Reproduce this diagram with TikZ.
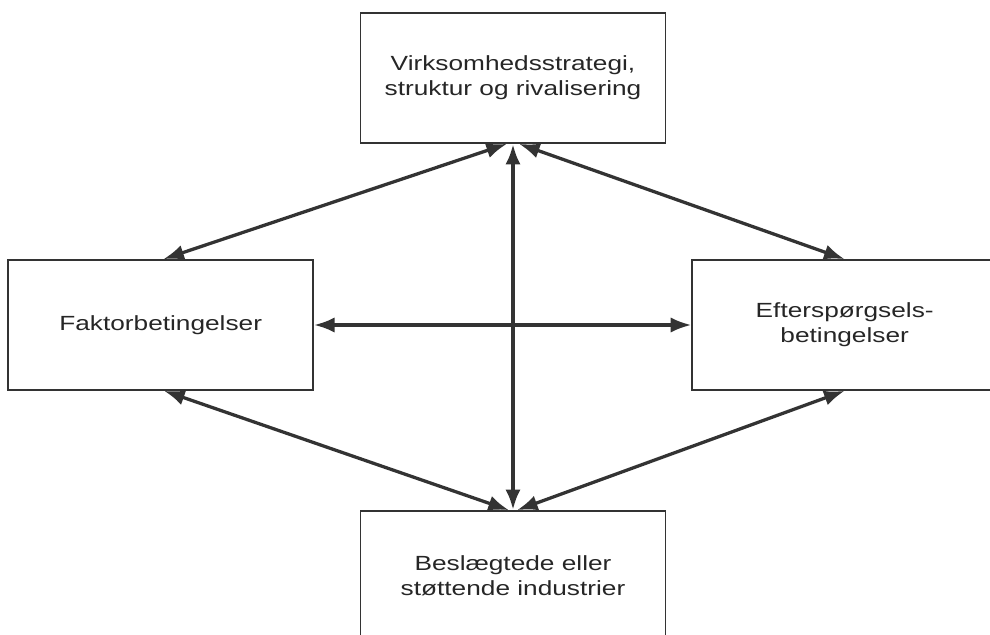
\documentclass[tikz,border=0pt]{standalone}
\usepackage{fontspec}
\setmainfont{Liberation Sans}[FakeStretch=1.28]
\usetikzlibrary{arrows.meta}
\begin{document}
\begin{tikzpicture}[
        boks/.style={draw=black!80, line width=1.4pt, minimum width=9.15cm, minimum height=3.9cm,
            inner sep=0pt, align=center, text=black!85, font=\fontsize{17.5pt}{21.3pt}\selectfont},
        pil/.style={{Latex[length=0.62cm,width=0.46cm]}-{Latex[length=0.62cm,width=0.46cm]},
            draw=black!80, line width=2.8pt}
    ]
        \useasboundingbox (0,0) rectangle (29.7,19.05);
        \node[boks] (strategi) at (15.39,16.71) {Virksomhedsstrategi,\\struktur og rivalisering};
        \node[boks] (faktor) at (4.82,9.3) {Faktorbetingelser};
        \node[boks] (efterspoergsel) at (25.34,9.3) {Eftersp\o rgsels-\\betingelser};
        \node[boks] (industri) at (15.39,1.77) {Besl\ae gtede eller\\st\o ttende industrier};
        \draw[pil] ([xshift=-0.18cm]strategi.south) -- ([xshift=0.08cm]faktor.north);
        \draw[pil] ([xshift=0.18cm]strategi.south) -- (efterspoergsel.north);
        \draw[pil, line width=3.8pt] (strategi.south) -- (industri.north);
        \draw[pil] (faktor.east) -- (efterspoergsel.west);
        \draw[pil] ([xshift=0.1cm]faktor.south) -- ([xshift=-0.12cm]industri.north);
        \draw[pil] (efterspoergsel.south) -- ([xshift=0.12cm]industri.north);
    \end{tikzpicture}
\end{document}
